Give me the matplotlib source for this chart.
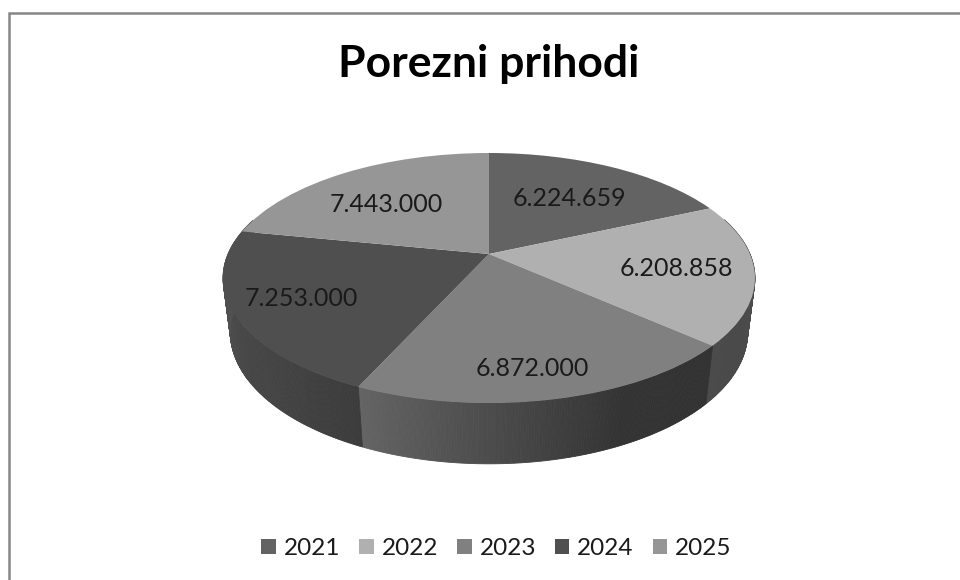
import numpy as np
import matplotlib
matplotlib.use("Agg")
import matplotlib.pyplot as plt
from matplotlib.lines import Line2D
from matplotlib.transforms import Transform
from matplotlib.colors import to_rgb

# Data
years = ["2021", "2022", "2023", "2024", "2025"]
revenues = [6224659, 6208858, 6872000, 7253000, 7443000]
value_labels = ["6.224.659", "6.208.858", "6.872.000", "7.253.000", "7.443.000"]
title_text = "Porezni prihodi"

# Style
top_colors = ["#636363", "#b0b0b0", "#808080", "#4f4f4f", "#969696"]
side_stops = [
    [(0, "#505050"), (1, "#505050")],
    [(0, "#4c4c4c"), (1, "#4a4a4a")],
    [(0, "#323232"), (0.32, "#333333"), (1, "#646464")],
    [(0, "#3c3c3c"), (1, "#575757")],
    [(0, "#505050"), (1, "#505050")],
]
label_pixels = [(569, 199), (676, 269), (532, 368), (301, 298), (386, 204)]
FONT = "Lato"

# Camera (screen pixels)
CX, CY = 489.0, 254.0
A, B = 261.0, 120.4
K, M, C = 0.192, 0.027, 54.8
SIDE_STEPS = 720


def top_project(u, v):
    w = 1 + K * v
    return CX + A * u / w, CY - B * v / w


def bottom_project(u, v):
    w = 1 + K * v + M
    return CX + A * u / w, CY + (C - B * v) / w


class TopDisc(Transform):
    input_dims = output_dims = 2
    has_inverse = False
    is_separable = False

    def transform_non_affine(self, values):
        values = np.asarray(values)
        x, y = top_project(values[:, 0], values[:, 1])
        return np.column_stack([x, y])


fig = plt.figure(figsize=(9.6, 5.8), dpi=100, facecolor="white")
ax = fig.add_axes([0, 0, 1, 1])
wedges, _ = ax.pie(revenues, colors=top_colors, startangle=90, counterclock=False,
                   wedgeprops=dict(linewidth=0, zorder=5))
ax.set_aspect("auto")
ax.set_xlim(0, 960)
ax.set_ylim(580, 0)
ax.axis("off")

top = TopDisc() + ax.transData
for w in wedges:
    w.set_transform(top)
    w.set_clip_on(False)

# Side wall, shaded along the sweep of each slice
fractions = np.array(revenues, dtype=float) / np.sum(revenues)
edges = np.concatenate([[0], np.cumsum(fractions)]) * 2 * np.pi

for i, stops in enumerate(side_stops):
    n = max(int((edges[i + 1] - edges[i]) / (2 * np.pi) * SIDE_STEPS), 2)
    th = np.linspace(edges[i], edges[i + 1], n + 1)
    pos = [s[0] for s in stops]
    rgb = np.array([to_rgb(s[1]) for s in stops])
    for j in range(n):
        a0, a1 = th[j], th[j + 1]
        if np.cos((a0 + a1) / 2) > 0.3:
            continue
        t = (j + 0.5) / n
        col = [np.interp(t, pos, rgb[:, c]) for c in range(3)]
        xa, ya = top_project(np.sin(a0), np.cos(a0))
        xb, yb = top_project(np.sin(a1), np.cos(a1))
        xc, yc = bottom_project(np.sin(a1), np.cos(a1))
        xd, yd = bottom_project(np.sin(a0), np.cos(a0))
        ax.fill([xa, xb, xc, xd], [ya, yb, yc, yd], color=col, lw=0.6, zorder=2)

for (px, py), txt in zip(label_pixels, value_labels):
    ax.text(px, py, txt, fontsize=18, family=FONT, color="#1a1a1a",
            ha="center", va="center", zorder=6)

ax.text(489, 64, title_text, fontsize=32, fontweight="bold", family=FONT,
        color="black", ha="center", va="center")

leg = ax.legend(wedges, years, ncol=5, loc="center",
                bbox_to_anchor=(496.5, 548.5), bbox_transform=ax.transData,
                frameon=False, prop=dict(family=FONT, size=17.5),
                handlelength=0.6, handleheight=0.6, handletextpad=0.32,
                columnspacing=0.78, borderpad=0, borderaxespad=0)
for t in leg.get_texts():
    t.set_color("#1a1a1a")

ax.add_line(Line2D([8.5, 8.5, 960], [580, 12.5, 12.5], color="#868686", lw=1.8,
                   solid_joinstyle="miter", clip_on=False))

fig.savefig("out.png", dpi=100, facecolor="white")
